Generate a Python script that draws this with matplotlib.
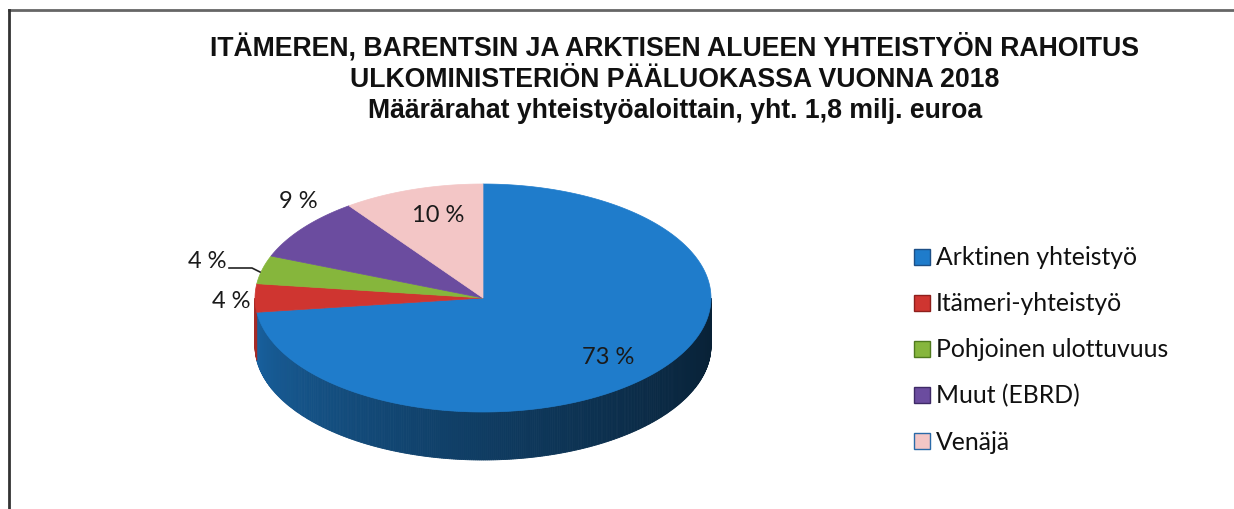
import matplotlib
matplotlib.use("Agg")
import matplotlib.pyplot as plt
import matplotlib.colors as mcolors
from matplotlib.patches import Polygon, Patch
import numpy as np

# rahoitus yhteistyöaloittain (%)
kategoriat = ["Arktinen yhteistyö", "Itämeri-yhteistyö", "Pohjoinen ulottuvuus",
              "Muut (EBRD)", "Venäjä"]
osuudet = [73, 4, 4, 9, 10]
varit = ["#1f7ccb", "#cf3530", "#86b63c", "#6b4c9f", "#f3c6c6"]
reunat = ["#1d4f86", "#8e1f1c", "#4f7a1e", "#3e2a66", "#2a6aa8"]

otsikko = ("ITÄMEREN, BARENTSIN JA ARKTISEN ALUEEN YHTEISTYÖN RAHOITUS\n"
           "ULKOMINISTERIÖN PÄÄLUOKASSA VUONNA 2018\n"
           "Määrärahat yhteistyöaloittain, yht. 1,8 milj. euroa")

W, H = 1234, 509
fig = plt.figure(figsize=(W / 100, H / 100), dpi=100)
ax = fig.add_axes([0, 0, 1, 1])
ax.set_xlim(0, W)
ax.set_ylim(H, 0)
ax.axis("off")

# kehys (vain ylä- ja vasen reuna näkyvissä)
ax.plot([9, W], [10, 10], color="#666666", lw=2)
ax.plot([9, 9], [10, H], color="#333333", lw=2)

ax.text(675, 33, otsikko, ha="center", va="top", fontsize=19.2, fontweight="bold",
        family=["Liberation Sans", "DejaVu Sans"], linespacing=1.25, color="#111111")

# 3D-piirakka
cx, cy = 483, 298
rx, ry = 228, 114
paksuus = 48

def piste(theta):
    # theta astetta myötäpäivään ylhäältä
    t = np.radians(theta)
    return cx + rx * np.sin(t), cy - ry * np.cos(t)

raja = np.concatenate([[0], np.cumsum(osuudet)]) / sum(osuudet) * 360

def tummenna(vari, k):
    r, g, b = mcolors.to_rgb(vari)
    return (r * k, g * k, b * k)

# sivupinta: näkyy kulmilla 90..270
for i in range(len(osuudet)):
    a0, a1 = max(raja[i], 90), min(raja[i + 1], 270)
    if a1 <= a0:
        continue
    kulmat = np.linspace(a0, a1, max(2, int((a1 - a0) * 2)))
    for j in range(len(kulmat) - 1):
        t0, t1 = kulmat[j], kulmat[j + 1]
        tm = (t0 + t1) / 2
        # vasen puoli vaaleampi, oikea tummempi
        k = 0.26 + 0.55 * ((tm - 90) / 180) ** 1.3
        x0, y0 = piste(t0)
        x1, y1 = piste(t1)
        ax.add_patch(Polygon([(x0, y0), (x1, y1), (x1, y1 + paksuus), (x0, y0 + paksuus)],
                             closed=True, facecolor=tummenna(varit[i], k),
                             edgecolor=tummenna(varit[i], k), lw=0.6))

# yläpinta
for i in range(len(osuudet)):
    kulmat = np.linspace(raja[i], raja[i + 1], max(3, int(osuudet[i] * 4)))
    pts = [(cx, cy)] + [piste(t) for t in kulmat]
    ax.add_patch(Polygon(pts, closed=True, facecolor=varit[i], edgecolor=varit[i], lw=0.5))

# prosenttiotsikot
label_fontti = ["Lato", "DejaVu Sans"]
label_paikat = [(608, 358), (231, 302), (207, 261), (298, 202), (438, 215)]
for v, (lx, ly) in zip(osuudet, label_paikat):
    ax.text(lx, ly, f"{v} %", ha="center", va="center", fontsize=17,
            family=label_fontti, color="#1a1a1a")
# johdinviiva Pohjoinen ulottuvuus -otsikolle
ax.plot([229, 252, 260], [268, 268, 272], color="#222222", lw=1.2)

# selite
kahvat = [Patch(facecolor=c, edgecolor=e, lw=1) for c, e in zip(varit, reunat)]
leg = ax.legend(kahvat, kategoriat, loc="upper left", bbox_to_anchor=(892 / W, 1 - 224 / H),
                frameon=False, handlelength=0.62, handleheight=0.62, handletextpad=0.25,
                labelspacing=0.93, prop={"family": label_fontti, "size": 17.8})
for t in leg.get_texts():
    t.set_color("#111111")

fig.savefig("out.png", dpi=100, facecolor="white")
